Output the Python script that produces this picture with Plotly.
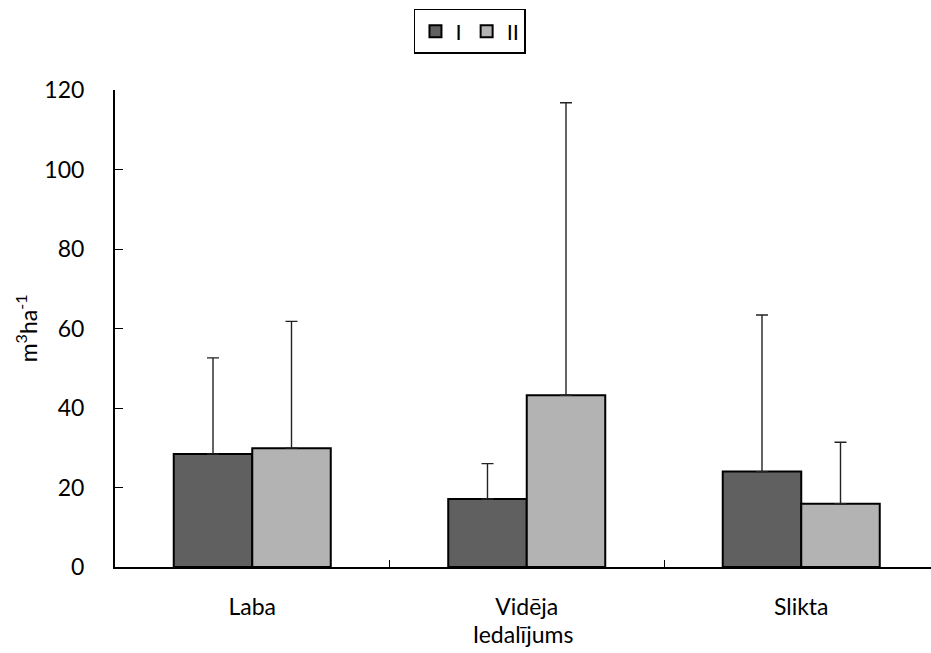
import plotly.graph_objects as go

# Category labels and series values (m3 ha-1)
categories = ["Laba", "Vidēja", "Slikta"]
series_names = ["I", "II"]
values_I = [28.4, 17.1, 24.0]
values_II = [29.9, 43.2, 15.9]
upper_I = [52.6, 26.0, 63.4]
upper_II = [61.8, 116.8, 31.4]
y_ticks = [0, 20, 40, 60, 80, 100, 120]

font_family = "Lato, 'Open Sans', sans-serif"

err_I = [u - v for u, v in zip(upper_I, values_I)]
err_II = [u - v for u, v in zip(upper_II, values_II)]

fig = go.Figure()
for name, vals, err, color in [
    (series_names[0], values_I, err_I, "#606060"),
    (series_names[1], values_II, err_II, "#b3b3b3"),
]:
    fig.add_trace(go.Bar(
        name=name,
        x=categories,
        y=vals,
        marker=dict(color=color, line=dict(color="black", width=2)),
        error_y=dict(type="data", array=err, arrayminus=[0] * len(err),
                     symmetric=False, color="#222222", thickness=1.4, width=6),
    ))

fig.update_layout(
    width=931, height=653,
    margin=dict(l=115, r=0, t=90, b=86),
    paper_bgcolor="white", plot_bgcolor="white",
    barmode="group", bargap=0.428, bargroupgap=0,
    font=dict(family=font_family, size=23, color="black"),
    showlegend=True,
    legend=dict(
        orientation="h", x=0.435, xanchor="center", y=1.17, yanchor="top",
        bordercolor="black", borderwidth=1.5, bgcolor="white",
        font=dict(size=22), itemwidth=30, tracegroupgap=0,
    ),
    xaxis=dict(
        range=[-0.5, 2.4727],
        showline=True, linecolor="black", linewidth=2,
        ticks="inside", tickson="boundaries", ticklen=7, tickcolor="black",
        showgrid=False, zeroline=False,
        ticklabelstandoff=18,
        title=dict(text="Iedalījums", standoff=4, font=dict(size=23)),
        tickfont=dict(size=23),
    ),
    yaxis=dict(
        range=[0, 120], tickvals=y_ticks,
        showline=True, linecolor="black", linewidth=2,
        ticks="inside", ticklen=8, tickcolor="black",
        showgrid=False, zeroline=False,
        ticklabelstandoff=24,
        tickfont=dict(size=23),
    ),
    annotations=[dict(
        text="m<sup>3</sup>ha<sup>-1</sup>", textangle=-90,
        xref="paper", yref="paper", x=-0.108, y=0.5,
        xanchor="center", yanchor="middle", showarrow=False,
        font=dict(size=23),
    )],
)

fig.write_html("out.html")
